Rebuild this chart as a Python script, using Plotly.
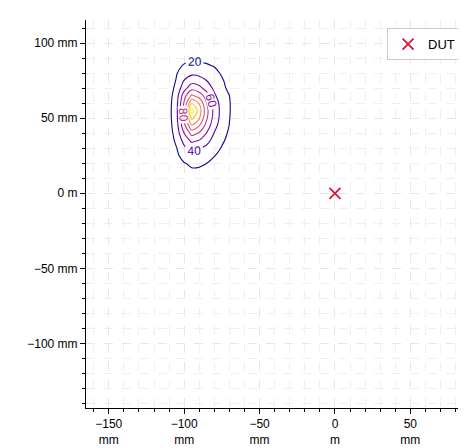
import plotly.graph_objects as go

# Contour grid (mm)
x_mm = [-115, -110, -105, -100, -95, -90, -85, -80, -75, -70, -65]
y_mm = [10, 15, 20, 25, 30, 35, 40, 45, 50, 55, 60, 65, 70, 75, 80, 85, 90, 95, 100]
z_vals = [
    [0.3, 1.7, 5.8, 10.2, 12.6, 12, 10, 7.5, 5.4, 3, 1.6],
    [0.7, 2.8, 7.9, 15.2, 17.9, 17.2, 15, 11.5, 7.6, 5, 2.1],
    [1, 4.5, 12, 19, 23, 23, 20, 15, 10, 6, 3],
    [1.4, 6, 15.9, 28.1, 34.1, 32.4, 27.7, 20.6, 15, 9, 5.3],
    [1.6, 7.4, 19.5, 35.9, 45.6, 41.6, 35.3, 27.3, 18.6, 12.1, 6.6],
    [1.9, 9.3, 24.5, 46.4, 64, 58.3, 45.2, 33.5, 22.8, 14.8, 7.8],
    [2.2, 11.2, 29, 59.9, 87, 77.8, 58.4, 38.8, 27.2, 17, 8.7],
    [2.8, 12.6, 32.5, 74, 116.8, 100, 71.8, 46, 30.5, 19.5, 10.9],
    [3.1, 13.6, 34.7, 84.8, 144.5, 122, 81.8, 51.5, 32.6, 20.5, 11.7],
    [3.2, 13.8, 35.4, 89, 170, 130, 86, 53.3, 33.3, 21, 12],
    [3.1, 13.4, 34.3, 83, 138.8, 119, 80.2, 50.7, 32.3, 21, 11.6],
    [2.6, 12.2, 31.3, 72.3, 103.5, 91.8, 69.8, 43.1, 29.4, 20, 10.4],
    [2, 9.8, 26.6, 52.4, 73.5, 66.7, 51.2, 35.9, 24.9, 15.8, 8.5],
    [2, 8, 22, 41, 52, 48, 40, 31, 22, 14, 7],
    [2, 7, 19, 31, 36, 35, 31, 25, 18, 11, 6],
    [1, 5, 15, 22, 25, 24, 22, 19, 14, 8, 4],
    [1, 3, 8, 14, 16, 16, 15, 12, 8, 5, 2],
    [0.1, 1.5, 4.6, 7.8, 10, 9.2, 7.8, 6.2, 4.4, 2, 1.35],
    [0, 0.9, 2, 4.8, 5.8, 5.6, 4.8, 3.4, 1.9, 1.35, 0.75],
]
contour_levels = dict(start=20, end=160, size=20)

dut_x = [0]
dut_y = [0]
dut_name = "DUT"

x_tickvals = [-150, -100, -50, 0, 50]
x_ticktext = ["\u2212150<br>mm", "\u2212100<br>mm", "\u221250<br>mm", "0<br>m", "50<br>mm"]
y_tickvals = [100, 50, 0, -50, -100]
y_ticktext = ["100 mm", "50 mm", "0 m", "\u221250 mm", "\u2212100 mm"]

plasma = ['#0d0887', '#46039f', '#7201a8', '#9c179e', '#bd3786',
          '#d8576b', '#ed7953', '#fb9f3a', '#fdca26', '#f0f921']
cs = [[i / (len(plasma) - 1), c] for i, c in enumerate(plasma)]

fig = go.Figure()
fig.add_trace(go.Contour(
    x=x_mm, y=y_mm, z=z_vals,
    zmin=contour_levels['start'], zmax=contour_levels['end'], zauto=False,
    colorscale=cs, showscale=False,
    contours=dict(coloring='lines', showlabels=True,
                  labelfont=dict(size=12, family="Liberation Sans, Arial, sans-serif"),
                  **contour_levels),
    line=dict(width=1.1, smoothing=0.9),
    showlegend=False, hoverinfo='skip',
))
fig.add_trace(go.Scatter(
    x=dut_x, y=dut_y, mode='markers', name=dut_name, showlegend=True,
    marker=dict(symbol='x-thin', size=11, color='#dc143c',
                line=dict(width=1.8, color='#dc143c')),
))

grid_col = '#e6e6e6'
axis_common = dict(
    ticks='outside', ticklen=5, tickwidth=1.2, tickcolor='black',
    showline=True, linecolor='black', linewidth=1,
    showgrid=True, gridcolor=grid_col, griddash='dash', gridwidth=1,
    zeroline=False, automargin=False,
    tickfont=dict(size=12, color='black', family="Liberation Sans, Arial, sans-serif"),
)

fig.update_xaxes(range=[-165.1, 92.2], tickmode='array', tickvals=x_tickvals, ticktext=x_ticktext,
                 minor=dict(tick0=0, dtick=10, ticks='outside', ticklen=3, tickcolor='black',
                            showgrid=True, gridcolor='#efefef', griddash='dash'),
                 **axis_common)
fig.update_yaxes(range=[-143.1, 115.5], tickmode='array', tickvals=y_tickvals, ticktext=y_ticktext,
                 minor=dict(tick0=0, dtick=10, ticks='outside', ticklen=3, tickcolor='black',
                            showgrid=True, gridcolor='#efefef', griddash='dash'),
                 **axis_common)

fig.update_layout(
    width=466, height=448,
    margin=dict(l=78, r=0, t=12, b=48),
    showlegend=True,
    paper_bgcolor='white', plot_bgcolor='white',
    font=dict(family="Liberation Sans, Arial, sans-serif", size=12, color='black'),
    legend=dict(x=0.776, y=0.979, xanchor='left', yanchor='top',
                bgcolor='rgba(255,255,255,0.85)', bordercolor='#cccccc', borderwidth=1,
                font=dict(size=13)),
)

fig.write_html("out.html", post_script="document.body.style.overflow='hidden';")
